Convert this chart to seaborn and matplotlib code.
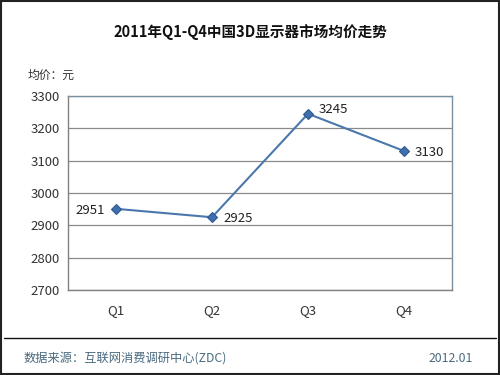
import matplotlib
matplotlib.use("Agg")
import matplotlib.pyplot as plt
import seaborn as sns
import pandas as pd
from matplotlib.lines import Line2D
from matplotlib.patches import Rectangle

quarters = ["Q1", "Q2", "Q3", "Q4"]
prices = [2951, 2925, 3245, 3130]
yticks = [2700, 2800, 2900, 3000, 3100, 3200, 3300]

sns.set_theme(style="white")
plt.rcParams['font.family'] = ['Noto Sans CJK SC', 'DejaVu Sans']

df = pd.DataFrame({"quarter": quarters, "price": prices})
df["x"] = range(len(quarters))

fig = plt.figure(figsize=(5, 3.75), dpi=100)
ax = fig.add_axes([0.136, 0.2267, 0.768, 0.5173])

sns.lineplot(data=df, x="x", y="price", ax=ax, color="#4a78ad", linewidth=1.5,
             marker="D", markersize=5.5, markerfacecolor="#3f6fae",
             markeredgecolor="#2f5a90", markeredgewidth=0.8)

ax.set_xlim(-0.5, 3.5)
ax.set_ylim(2700, 3300)
ax.set_yticks(yticks)
ax.set_yticklabels([str(v) for v in yticks], fontsize=9.5, color="#333333")
ax.set_xticks(range(len(quarters)))
ax.set_xticklabels(quarters, fontsize=9.5, color="#333333")
ax.set_xticks([i - 0.5 for i in range(len(quarters) + 1)], minor=True)
ax.tick_params(axis="x", which="major", length=0, pad=10)
ax.tick_params(axis="x", which="minor", length=4, color="#808080", direction="out")
ax.tick_params(axis="y", which="major", length=3, color="#808080", pad=3)
ax.set_xlabel("")
ax.set_ylabel("")
ax.grid(axis="y", color="#8a8a8a", linewidth=0.9)
ax.set_axisbelow(True)
for side in ["left", "bottom"]:
    ax.spines[side].set_color("#808080")
    ax.spines[side].set_linewidth(1)
for side in ["top", "right"]:
    ax.spines[side].set_color("#7890a0")
    ax.spines[side].set_linewidth(1)

for i, (q, p) in enumerate(zip(quarters, prices)):
    if i == 0:
        ax.annotate(str(p), (i, p), xytext=(-8, -1), textcoords="offset points",
                    ha="right", va="center", fontsize=9.5, color="#222222")
    else:
        ax.annotate(str(p), (i, p), xytext=(8, 3 if i == 2 else -1), textcoords="offset points",
                    ha="left", va="center", fontsize=9.5, color="#222222")

fig.text(0.5, 0.915, "2011年Q1-Q4中国3D显示器市场均价走势", ha="center", va="center",
         fontsize=10.5, fontweight="bold", color="#111111")
fig.text(0.056, 0.8, "均价：元", ha="left", va="center", fontsize=8.5, color="#333333")

fig.add_artist(Line2D([0.008, 0.992], [0.0987, 0.0987], color="#111111", linewidth=1))
fig.text(0.048, 0.045, "数据来源：互联网消费调研中心(ZDC)", ha="left", va="center",
         fontsize=8.8, color="#4a6a80")
fig.text(0.945, 0.045, "2012.01", ha="right", va="center", fontsize=8.8, color="#4a6a80")

fig.add_artist(Rectangle((0.002, 0.003), 0.996, 0.994, transform=fig.transFigure,
                         fill=False, edgecolor="#222222", linewidth=1.5))

fig.savefig("out.png", dpi=100)
